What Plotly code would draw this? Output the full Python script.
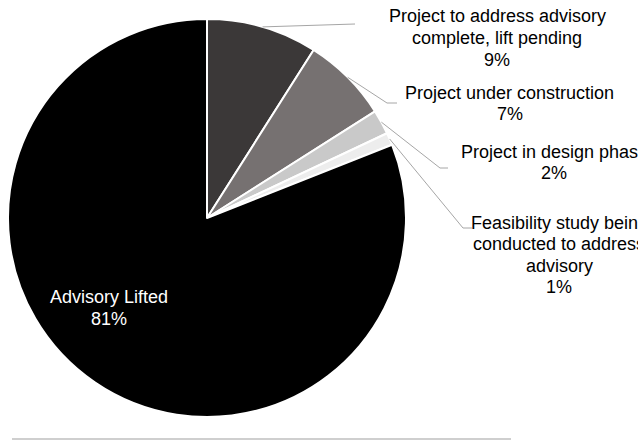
import math
import plotly.graph_objects as go

# ---- data ----
labels = [
    "Project to address advisory<br>complete, lift pending",
    "Project under construction",
    "Project in design phase",
    "Feasibility study being<br>conducted to address<br>advisory",
    "Advisory Lifted",
]
values = [9, 7, 2, 1, 81]
colors = ["#3b3838", "#767171", "#c9c9c9", "#ededed", "#000000"]

# ---- layout (pixels) ----
W, H = 638, 440
cx, cy, R = 207, 218, 199
LINE_H = 21.5
label_pos = [(497, 38), (510, 103.5), (554, 162.5), (559, 255), (109, 308)]
label_col = ["black", "black", "black", "black", "white"]
leader_elbow = [None, (387, 103), (440, 168), (463, 228), None]
leader_end = [(355, 24), (397, 103), (448, 168), (472, 228), None]


def px(x):
    return x / W


def py(y):
    return 1 - y / H


fig = go.Figure(
    go.Pie(
        labels=labels,
        values=values,
        sort=False,
        direction="clockwise",
        rotation=0,
        marker=dict(colors=colors, line=dict(color="white", width=2)),
        textinfo="none",
        hoverinfo="label+percent",
        domain=dict(x=[px(cx - R), px(cx + R)], y=[py(cy + R), py(cy - R)]),
        showlegend=False,
    )
)

total = sum(values)
annotations = []
shapes = []
cum = 0
for i, (lab, v) in enumerate(zip(labels, values)):
    mid = (cum + v / 2) / total * 2 * math.pi
    cum += v
    pct = round(v / total * 100)
    lx, ly = label_pos[i]
    lines = lab.split("<br>") + [f"{pct}%"]
    n = len(lines)
    for k, line in enumerate(lines):
        yk = ly + (k - (n - 1) / 2) * LINE_H
        annotations.append(
            dict(
                x=px(lx), y=py(yk), xref="paper", yref="paper",
                text=line, showarrow=False,
                xanchor="center", yanchor="middle", align="center",
                font=dict(family="Liberation Sans, Arial", size=18, color=label_col[i]),
            )
        )
    if leader_end[i] is not None:
        sx = cx + R * math.sin(mid)
        sy = cy - R * math.cos(mid)
        pts = [(sx, sy)]
        if leader_elbow[i] is not None:
            pts.append(leader_elbow[i])
        pts.append(leader_end[i])
        path = "M " + " L ".join(f"{px(a)},{py(b)}" for a, b in pts)
        shapes.append(
            dict(type="path", xref="paper", yref="paper", path=path,
                 line=dict(color="#a6a6a6", width=1))
        )

# bottom border line
shapes.append(
    dict(type="line", xref="paper", yref="paper",
         x0=px(12), x1=px(511), y0=py(439), y1=py(439),
         line=dict(color="#bfbfbf", width=1.5))
)

fig.update_layout(
    width=W, height=H,
    margin=dict(l=0, r=0, t=0, b=0),
    paper_bgcolor="white", plot_bgcolor="white",
    annotations=annotations, shapes=shapes,
    font=dict(family="Liberation Sans, Arial", size=18, color="black"),
)

fig.write_html("out.html")
